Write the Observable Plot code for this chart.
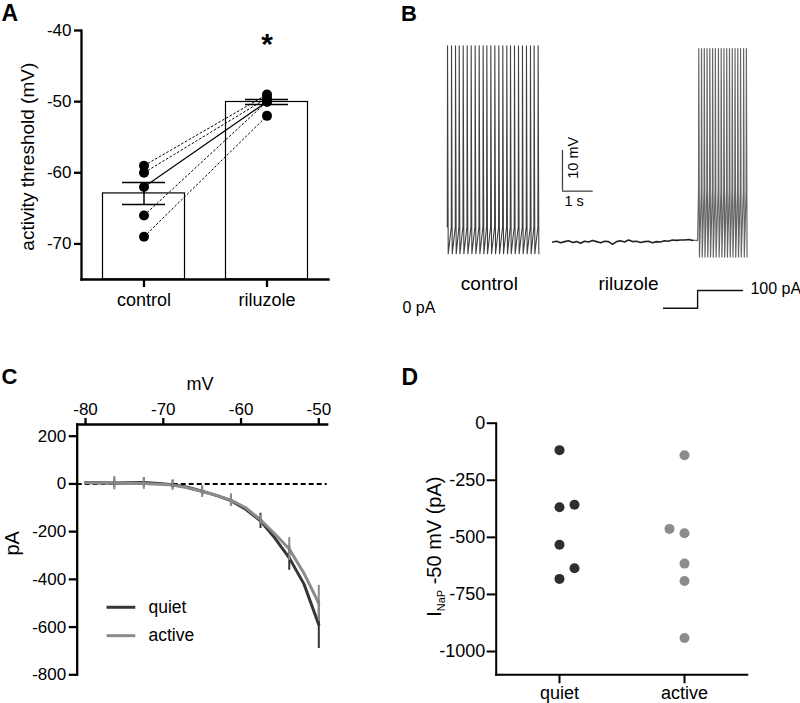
<!DOCTYPE html>
<html>
<head>
<meta charset="utf-8">
<script src="https://cdn.jsdelivr.net/npm/d3@7"></script>
<script src="https://cdn.jsdelivr.net/npm/@observablehq/plot@0.6"></script>
<style>
  html, body { margin: 0; padding: 0; background: #fff; }
  #fig { position: relative; width: 800px; height: 703px; overflow: hidden; background: #fff; }
  #fig svg { position: absolute; overflow: visible; }
</style>
</head>
<body>
<div id="fig"></div>
<script>
const FONT = '"Liberation Sans", Arial, Helvetica, sans-serif';

// ---------------- Panel A : activity threshold ----------------
const groupsA = ["control", "riluzole"];
const controlThreshold = [-59, -60, -62, -66, -69];
const riluzoleThreshold = [-49, -49.5, -50, -50, -52];
const pairIsSolid = [false, false, true, false, false];
const meanThreshold = [-62.9, -50.05];
const semThreshold = [1.55, 0.35];
const yTicksA = [-40, -50, -60, -70];
const yDomainA = [-75, -40];

// ---------------- Panel B : voltage traces ----------------
const controlSpikeTimes = [0.00, 0.13, 0.26, 0.38, 0.51, 0.64, 0.77, 0.90, 1.03, 1.16, 1.28, 1.41,
                           1.54, 1.67, 1.80, 1.93, 2.05, 2.18, 2.31, 2.44, 2.57, 2.70, 2.82, 2.95];
const riluzoleSpikeTimes = [8.18, 8.27, 8.36, 8.45, 8.54, 8.63, 8.72, 8.82, 8.91, 9.00, 9.09, 9.18,
                            9.27, 9.36, 9.45, 9.54, 9.64, 9.73];
const controlSpikeLevels = [-52.5, -8.0, -59.1];   // threshold, peak, trough (mV)
const riluzoleSpikeLevels = [-43.5, -8.7, -59.9];  // threshold, peak, trough (mV)
const riluzoleRestStart = 3.43;
const riluzoleRestStep = 0.13;
const riluzoleRestVm = [-56.2, -56.0, -56.4, -56.1, -55.9, -56.3, -56.1, -56.5, -56.0, -56.2, -55.8, -56.1,
                        -56.4, -56.0, -56.1, -56.8, -56.1, -55.9, -56.2, -55.7, -56.1, -56.0, -56.3, -56.1,
                        -56.0, -56.4, -56.1, -56.2, -55.9, -56.0, -55.7, -55.8, -55.7, -55.7, -55.6, -55.8];
const stepOnset = [8.15, -55.8];
const stepTimes = [7.04, 8.15, 8.15, 9.61];
const stepCurrent = [0, 0, 100, 100];
const scaleBarSizes = [10, 1]; // mV, s

// ---------------- Panel C : I-V curves ----------------
const ivVoltage = [-80, -78, -76.3, -74.4, -72.5, -70.6, -68.8, -66.9, -65, -63.1, -61.3, -59.4, -57.5, -55.7, -53.8, -51.9, -50];
const quietCurrent = [6, 5, 4, 5, 6, 2, -3, -14, -31, -49, -70, -106, -155, -225, -310, -420, -590];
const activeCurrent = [5, 4, 3, 2, 2, -1, -5, -16, -32, -48, -68, -100, -150, -208, -273, -375, -500];
const quietSem = [null, null, 20, null, 20, null, 18, null, 20, null, 20, null, 32, null, 52, null, 100];
const activeSem = [null, null, 28, null, 25, null, 22, null, 25, null, 27, null, 20, null, 48, null, 75];
const xTicksC = [-80, -70, -60, -50];
const yTicksC = [200, 0, -200, -400, -600, -800];
const legendC = ["quiet", "active"];

// ---------------- Panel D : INaP at -50 mV ----------------
const groupsD = ["quiet", "active"];
const quietINaP = [-118, -368, -532, -682];
const quietINaPShifted = [-357, -635];
const activeINaP = [-140, -482, -615, -691, -941];
const activeINaPShifted = [-463];
const yTicksD = [0, -250, -500, -750, -1000];

const DARK = "#363636", GRAY = "#8c8c8c";
const fig = document.getElementById("fig");
function place(svg, left, top) {
  svg.style.left = left + "px";
  svg.style.top = top + "px";
  fig.appendChild(svg);
}
const baseStyle = {fontFamily: FONT, background: "none", color: "#000", overflow: "visible"};
const fmt = d => String(d);

// ---------- Panel A ----------
const barsA = groupsA.map((g, i) => ({group: g, mean: meanThreshold[i], sem: semThreshold[i]}));
const pairsA = controlThreshold.map((c, i) => ({c, r: riluzoleThreshold[i], solid: pairIsSolid[i]}));
const dotsA = [...controlThreshold.map(v => ({group: "control", v})),
               ...riluzoleThreshold.map(v => ({group: "riluzole", v}))];

const plotA = Plot.plot({
  width: 340, height: 320,
  marginLeft: 81, marginRight: 12, marginTop: 30, marginBottom: 41,
  style: baseStyle,
  x: {domain: groupsA, padding: 0},
  y: {domain: yDomainA},
  marks: [
    Plot.barY(barsA, {x: "group", y1: yDomainA[0], y2: "mean", fill: "white", stroke: "black", strokeWidth: 1.2, insetLeft: 20.5, insetRight: 20.5}),
    Plot.link(pairsA.filter(d => !d.solid), {x1: () => "control", y1: "c", x2: () => "riluzole", y2: "r", stroke: "black", strokeWidth: 1, strokeDasharray: "2.5,1.8"}),
    Plot.link(pairsA.filter(d => d.solid), {x1: () => "control", y1: "c", x2: () => "riluzole", y2: "r", stroke: "black", strokeWidth: 1.2}),
    Plot.ruleX(barsA, {x: "group", y1: d => d.mean - d.sem, y2: d => d.mean + d.sem, strokeWidth: 1.5}),
    Plot.tickY(barsA, {x: "group", y: d => d.mean + d.sem, strokeWidth: 1.5, insetLeft: 40, insetRight: 40}),
    Plot.tickY(barsA, {x: "group", y: d => d.mean - d.sem, strokeWidth: 1.5, insetLeft: 40, insetRight: 40}),
    Plot.dot(dotsA, {x: "group", y: "v", r: 5, fill: "black"}),
    Plot.axisY({ticks: yTicksA, tickFormat: fmt, tickSize: 7, tickPadding: 3, strokeWidth: 2.3, fontSize: 17, label: null}),
    Plot.axisX({tickSize: 8, tickPadding: 6, strokeWidth: 2.3, fontSize: 18, label: null}),
    Plot.frame({anchor: "left", strokeWidth: 2.3}),
    Plot.frame({anchor: "bottom", strokeWidth: 2.3})
  ]
});
place(plotA, 0, 0);

// ---------- Panel B ----------
function spikeTrace(times, levels) {
  const [thr, peak, trough] = levels;
  const pts = [];
  times.forEach(t => {
    pts.push({t, v: thr}, {t: t + 0.008, v: peak}, {t: t + 0.03, v: trough});
  });
  return pts;
}
const controlTrace = spikeTrace(controlSpikeTimes, controlSpikeLevels);
const restTrace = riluzoleRestVm.map((v, i) => ({t: riluzoleRestStart + i * riluzoleRestStep, v}));
const riluzoleTrace = [restTrace[restTrace.length - 1], {t: stepOnset[0], v: stepOnset[1]},
                       ...spikeTrace(riluzoleSpikeTimes, riluzoleSpikeLevels)];
const tDomainB = [-2.5, 11.5];
const sbT = 3.75, sbV = -43.7;

const plotB = Plot.plot({
  width: 430, height: 300, margin: 0,
  style: baseStyle,
  x: {domain: tDomainB, axis: null},
  y: {domain: [-70.57, 3.15], axis: null},
  marks: [
    Plot.line(controlTrace, {x: "t", y: "v", stroke: "#404040", strokeWidth: 1.1}),
    Plot.line(riluzoleTrace, {x: "t", y: "v", stroke: "#666", strokeWidth: 1.2}),
    Plot.line(restTrace, {x: "t", y: "v", stroke: "#222", strokeWidth: 1.6}),
    Plot.ruleX([sbT], {y1: sbV, y2: sbV + scaleBarSizes[0], stroke: "#444", strokeWidth: 1.3}),
    Plot.ruleY([sbV], {x1: sbT, x2: sbT + scaleBarSizes[1], stroke: "#444", strokeWidth: 1.3}),
    Plot.text([`${scaleBarSizes[0]} mV`], {x: sbT + 0.36, y: sbV + 8.2, text: d => d, rotate: -90, fontSize: 14.5}),
    Plot.text([`${scaleBarSizes[1]} s`], {x: sbT + 0.38, y: sbV - 2.4, text: d => d, fontSize: 14.5}),
    Plot.text(["control"], {x: 1.37, y: -66.4, text: d => d, fontSize: 19}),
    Plot.text(["riluzole"], {x: 5.9, y: -66.4, text: d => d, fontSize: 19})
  ]
});
place(plotB, 370, 0);

const stepData = stepTimes.map((t, i) => ({t, i: stepCurrent[i]}));
const plotBi = Plot.plot({
  width: 430, height: 40, margin: 0,
  style: baseStyle,
  x: {domain: tDomainB, axis: null},
  y: {domain: [-69.5, 156.5], axis: null},
  marks: [
    Plot.line(stepData, {x: "t", y: "i", stroke: "#111", strokeWidth: 1.4}),
    Plot.text(["0 pA"], {x: -1.46, y: 0, text: d => d, textAnchor: "start", fontSize: 16}),
    Plot.text(["100 pA"], {x: 9.87, y: 100, dy: -2, text: d => d, textAnchor: "start", fontSize: 16})
  ]
});
place(plotBi, 370, 280);

// ---------- Panel C ----------
const ivRows = ivVoltage.map((v, i) => ({v, q: quietCurrent[i], a: activeCurrent[i], qs: quietSem[i], as: activeSem[i]}));
const legendY = [-517, -636];
const plotC = Plot.plot({
  width: 340, height: 330,
  marginLeft: 76.7, marginRight: 13.3, marginTop: 64, marginBottom: 15.7,
  style: baseStyle,
  x: {domain: [-81.07, -48.92]},
  y: {domain: [-800, 249]},
  marks: [
    Plot.ruleY([0], {stroke: "black", strokeWidth: 2, strokeDasharray: "5,3"}),
    Plot.line(ivRows, {x: "v", y: "q", stroke: DARK, strokeWidth: 3}),
    Plot.line(ivRows, {x: "v", y: "a", stroke: GRAY, strokeWidth: 3}),
    Plot.ruleX(ivRows.filter(d => d.qs != null), {x: "v", y1: d => d.q - d.qs, y2: d => d.q + d.qs, stroke: DARK, strokeWidth: 2}),
    Plot.ruleX(ivRows.filter(d => d.as != null), {x: "v", y1: d => d.a - d.as, y2: d => d.a + d.as, stroke: GRAY, strokeWidth: 2}),
    Plot.link(legendC, {x1: -77.3, x2: -73.6, y1: (d, i) => legendY[i], y2: (d, i) => legendY[i], stroke: (d, i) => [DARK, GRAY][i], strokeWidth: 3}),
    Plot.text(legendC, {x: -71.9, y: (d, i) => legendY[i], text: d => d, textAnchor: "start", fontSize: 17.5}),
    Plot.axisX({anchor: "top", ticks: xTicksC, tickFormat: fmt, tickSize: 7, tickPadding: 3, strokeWidth: 2.3, fontSize: 17, label: null}),
    Plot.axisY({ticks: yTicksC, tickFormat: fmt, tickSize: 8, tickPadding: 3, strokeWidth: 2.3, fontSize: 17, label: null}),
    Plot.frame({anchor: "left", strokeWidth: 2.3}),
    Plot.frame({anchor: "top", strokeWidth: 2.3})
  ]
});
place(plotC, 0, 360);

// ---------- Panel D ----------
const plotD = Plot.plot({
  width: 420, height: 343,
  marginLeft: 115.7, marginRight: 53.3, marginTop: 62.7, marginBottom: 28.7,
  style: baseStyle,
  x: {type: "point", domain: groupsD, padding: 0.5},
  y: {domain: [-1102, 0]},
  marks: [
    Plot.dot(quietINaP, {x: () => "quiet", y: d => d, r: 5, fill: "#2e2e2e"}),
    Plot.dot(quietINaPShifted, {x: () => "quiet", y: d => d, dx: 15, r: 5, fill: "#2e2e2e"}),
    Plot.dot(activeINaP, {x: () => "active", y: d => d, r: 5, fill: GRAY}),
    Plot.dot(activeINaPShifted, {x: () => "active", y: d => d, dx: -15, r: 5, fill: GRAY}),
    Plot.axisY({ticks: yTicksD, tickFormat: fmt, tickSize: 9, tickPadding: 2, strokeWidth: 2, fontSize: 18, label: null}),
    Plot.axisX({tickSize: 9, tickPadding: 2, strokeWidth: 2, fontSize: 18, label: null}),
    Plot.frame({anchor: "left", strokeWidth: 2}),
    Plot.frame({anchor: "bottom", strokeWidth: 2})
  ]
});
place(plotD, 380, 360);

// ---------- Panel letters & axis titles ----------
const ov = d3.create("svg").attr("width", 800).attr("height", 703)
  .style("left", "0px").style("top", "0px").attr("font-family", FONT).attr("fill", "#000");
function addText(x, y, s, {size = 16, weight = "normal", anchor = "start", rotate = 0} = {}) {
  return ov.append("text").attr("transform", `translate(${x},${y}) rotate(${rotate})`)
    .attr("font-size", size).attr("font-weight", weight).attr("text-anchor", anchor).text(s);
}
addText(1.5, 21, "A", {size: 23, weight: "bold"});
addText(401, 21, "B", {size: 22, weight: "bold"});
addText(1.5, 383.5, "C", {size: 22, weight: "bold"});
addText(401.5, 385, "D", {size: 23, weight: "bold"});
addText(267, 54, "*", {size: 30, weight: "bold", anchor: "middle"});
addText(33.5, 156.7, "activity threshold (mV)", {size: 19, anchor: "middle", rotate: -90});
addText(200, 390, "mV", {size: 18, anchor: "middle"});
addText(18.5, 543.3, "pA", {size: 20, anchor: "middle", rotate: -90});
const tD = ov.append("text").attr("transform", "translate(440.5,546.7) rotate(-90)")
  .attr("font-size", 20).attr("text-anchor", "middle");
tD.append("tspan").text("I");
tD.append("tspan").attr("font-size", 11).attr("dy", 4).text("NaP");
tD.append("tspan").attr("dy", -4).text(" -50 mV (pA)");
fig.appendChild(ov.node());
</script>
</body>
</html>
